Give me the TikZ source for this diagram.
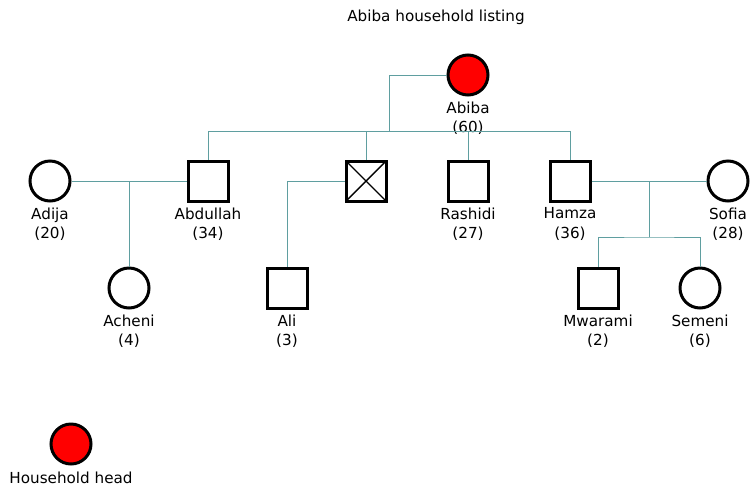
\documentclass[tikz,border=0pt]{standalone}
\usepackage{fontspec}
\setmainfont{DejaVu Sans}
\usetikzlibrary{calc}
\definecolor{relc}{RGB}{95,158,160}
\definecolor{headred}{RGB}{255,0,0}
\tikzset{
  person/.style={draw=black, line width=3pt, inner sep=0pt, minimum size=40pt},
  male/.style={person, rectangle},
  female/.style={person, circle},
  head/.style={person, circle, fill=headred},
  deceased/.style={male, path picture={\draw[line width=1.4pt] (path picture bounding box.north west) -- (path picture bounding box.south east) (path picture bounding box.north east) -- (path picture bounding box.south west);}},
  lbl/.style={align=center, inner sep=0pt, font=\fontsize{15.2}{19.5}\selectfont},
  rel/.style={draw=relc, line width=0.8pt}
}
\begin{document}
\begin{tikzpicture}[x=1pt, y=-1pt]
\useasboundingbox (0,0) rectangle (752,491);
\node[lbl] (title) at (436,17) {Abiba household listing};
% persons
\node[head] (abiba) at (468,75) {};
\node[male] (abdullah) at (208,181) {};
\node[deceased] (xsq) at (366,181) {};
\node[male] (rashidi) at (468,181) {};
\node[male] (hamza) at (570,181) {};
\node[female] (adija) at (50,181) {};
\node[female] (sofia) at (728,181) {};
\node[female] (acheni) at (129,288) {};
\node[male] (ali) at (287,288) {};
\node[male] (mwarami) at (598,288) {};
\node[female] (semeni) at (700,288) {};
\node[head] (legend) at (71,444) {};
% labels
\node[lbl] (labiba) at (468,118) {Abiba\\(60)};
\node[lbl] (labdullah) at (208,224) {Abdullah\\(34)};
\node[lbl] (lrashidi) at (468,224) {Rashidi\\(27)};
\node[lbl] (lhamza) at (570,224) {Hamza\\(36)};
\node[lbl] (ladija) at (50,224) {Adija\\(20)};
\node[lbl] (lsofia) at (728,224) {Sofia\\(28)};
\node[lbl] (lacheni) at (129,331) {Acheni\\(4)};
\node[lbl] (lali) at (287,331) {Ali\\(3)};
\node[lbl] (lmwarami) at (598,331) {Mwarami\\(2)};
\node[lbl] (lsemeni) at (700,331) {Semeni\\(6)};
\node[lbl] (llegend) at (71,478) {Household head};
% connectors
\coordinate (sib) at (389,131);
\draw[rel] (abiba.west) -| (sib);
\draw[rel] (abdullah.north) |- (hamza.north |- sib) -- (hamza.north);
\draw[rel] (xsq.north) -- (xsq.north |- sib);
\draw[rel] (rashidi.north) -- (rashidi.north |- sib);
\draw[rel] (adija.east) -- (abdullah.west);
\coordinate (m1) at ($(adija.east)!.5!(abdullah.west)$);
\draw[rel] (m1) -- (acheni.north);
\draw[rel] (xsq.west) -| (ali.north);
\draw[rel] (hamza.east) -- (sofia.west);
\coordinate (m2) at ($(hamza.east)!.5!(sofia.west)$);
\coordinate (s2) at ($(m2)+(0,56)$);
\draw[rel] (m2) -- (s2);
\draw[rel] (mwarami.north) |- (s2) -| (semeni.north);
\end{tikzpicture}
\end{document}
